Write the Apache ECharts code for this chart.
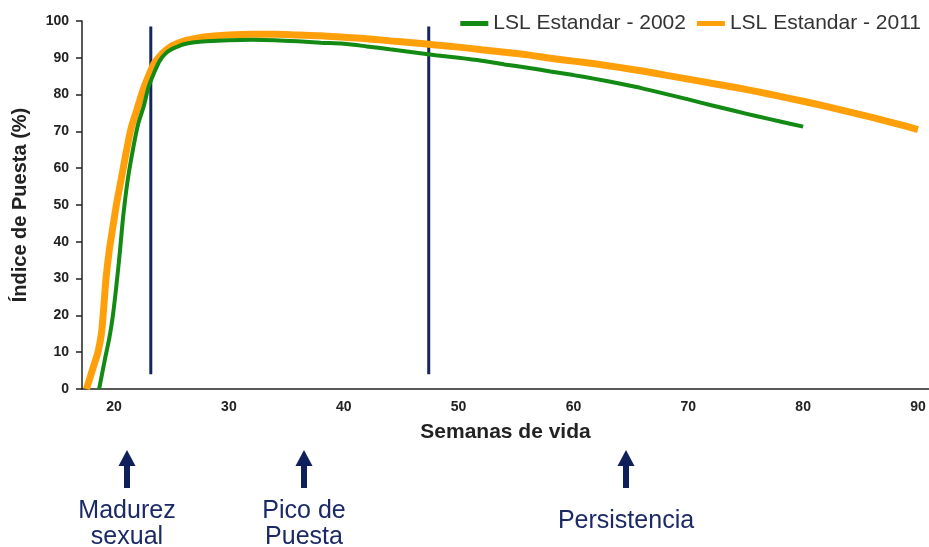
<!DOCTYPE html>
<html>
<head>
<meta charset="utf-8">
<style>
  html, body { margin: 0; padding: 0; background: #fff; }
  #chart { width: 929px; height: 547px; }
</style>
<script src="https://cdn.jsdelivr.net/npm/echarts@6/dist/echarts.min.js"></script>
</head>
<body>
<div id="chart"></div>
<script>
// Laying rate (%) by week of age, LSL standard 2002
const weeks2002 = [18.7, 19.2, 19.6, 19.9, 20.2, 20.5, 20.8, 21.2, 21.7, 22.1, 22.6, 23.0, 23.5, 24.0, 24.5, 25.0, 25.5, 26, 27, 28, 30, 32, 34, 36, 38, 40, 42, 44, 46, 48, 50, 52, 54, 56, 58, 60, 62, 64, 66, 68, 70, 72, 74, 76, 78, 80];
const rate2002 = [0, 8, 14, 20, 28, 37, 47, 57, 66, 72, 77, 82, 86, 89.3, 91.2, 92.3, 93, 93.6, 94.2, 94.5, 94.8, 94.9, 94.8, 94.5, 94.1, 93.8, 93.1, 92.3, 91.5, 90.7, 90.0, 89.2, 88.2, 87.3, 86.3, 85.3, 84.2, 83.0, 81.7, 80.2, 78.7, 77.1, 75.6, 74.1, 72.7, 71.3];

// Laying rate (%) by week of age, LSL standard 2011
const weeks2011 = [17.6, 17.9, 18.3, 18.6, 18.9, 19.1, 19.3, 19.6, 19.9, 20.2, 20.5, 20.8, 21.1, 21.5, 22.0, 22.5, 23.0, 23.5, 24.0, 24.5, 25, 26, 27, 28, 30, 32, 34, 36, 38, 40, 42, 44, 46, 48, 50, 52, 54, 56, 58, 60, 62, 64, 66, 68, 70, 72, 74, 76, 78, 80, 82, 84, 86, 88, 90];
const rate2011 = [0, 3, 7, 10, 15, 22, 30, 38, 44, 50, 55, 60, 65, 71, 76, 81, 85, 88.5, 90.5, 92, 93.2, 94.5, 95.2, 95.7, 96.2, 96.4, 96.4, 96.2, 96.0, 95.6, 95.2, 94.6, 94.1, 93.5, 92.9, 92.2, 91.5, 90.8, 89.9, 89.1, 88.3, 87.4, 86.4, 85.3, 84.2, 83.1, 82.0, 80.8, 79.5, 78.2, 76.8, 75.3, 73.8, 72.2, 70.5];

// Phase boundaries (weeks) drawn as vertical markers
const phaseWeeks = [23.2, 47.4];
const markerRange = [4, 98.5];

const xTicks = [20, 30, 40, 50, 60, 70, 80, 90];
const legendNames = ['LSL Estandar - 2002', 'LSL Estandar - 2011'];

// Phase captions under the chart
const phaseLabels = [
  { x: 127, lines: ['Madurez', 'sexual'] },
  { x: 304, lines: ['Pico de', 'Puesta'] },
  { x: 626, lines: ['Persistencia'] }
];

const pair = (xs, ys) => xs.map((x, i) => [x, ys[i]]);

const FONT = '"Liberation Sans", Arial, sans-serif';
const NAVY = '#1b2a66';

const markerSeries = phaseWeeks.map(w => ({
  type: 'line',
  data: [[w, markerRange[0]], [w, markerRange[1]]],
  symbol: 'none',
  silent: true,
  lineStyle: { color: '#14265e', width: 3 },
  z: 1
}));

const graphics = [];
phaseLabels.forEach(p => {
  // arrow pointing up at the axis
  graphics.push({
    type: 'polygon',
    shape: {
      points: [
        [p.x, 450], [p.x + 8.5, 466], [p.x + 3, 466], [p.x + 3, 488],
        [p.x - 3, 488], [p.x - 3, 466], [p.x - 8.5, 466]
      ]
    },
    style: { fill: '#0f1f5c' }
  });
  const y0 = p.lines.length === 1 ? 521 : 511;
  p.lines.forEach((t, i) => {
    graphics.push({
      type: 'text',
      x: p.x,
      y: y0 + i * 26,
      style: {
        text: t,
        fill: NAVY,
        font: '25px ' + FONT,
        align: 'center',
        verticalAlign: 'middle'
      }
    });
  });
});

const chart = echarts.init(document.getElementById('chart'), null, { renderer: 'canvas' });
chart.setOption({
  animation: false,
  backgroundColor: '#ffffff',
  grid: { left: 82, right: 0, top: 21, bottom: 158, containLabel: false, outerBoundsMode: 'none' },
  legend: {
    data: legendNames,
    right: 3,
    top: 8,
    itemWidth: 28,
    itemHeight: 5,
    itemGap: 11,
    icon: 'rect',
    textStyle: { fontFamily: FONT, fontSize: 21, color: '#333' }
  },
  xAxis: {
    type: 'value',
    min: 17.21,
    max: 90.96,
    name: 'Semanas de vida',
    nameLocation: 'middle',
    nameGap: 33,
    nameTextStyle: { fontFamily: FONT, fontSize: 21, fontWeight: 'bold', color: '#222' },
    axisLine: { show: true, lineStyle: { color: '#222', width: 1.5 } },
    axisTick: { show: false },
    splitLine: { show: false },
    axisLabel: {
      customValues: xTicks,
      margin: 11,
      fontFamily: FONT,
      fontSize: 14,
      fontWeight: 'bold',
      color: '#222'
    }
  },
  yAxis: {
    type: 'value',
    min: 0,
    max: 100,
    interval: 10,
    name: 'Índice de Puesta (%)',
    nameLocation: 'middle',
    nameGap: 52,
    nameRotate: 90,
    nameTextStyle: { fontFamily: FONT, fontSize: 20, fontWeight: 'bold', color: '#222' },
    axisLine: { show: true, lineStyle: { color: '#222', width: 1.5 } },
    axisTick: { show: true, length: 6, lineStyle: { color: '#222', width: 1.5 } },
    splitLine: { show: false },
    axisLabel: {
      margin: 13,
      fontFamily: FONT,
      fontSize: 14,
      fontWeight: 'bold',
      color: '#222'
    }
  },
  series: [
    {
      name: legendNames[0],
      type: 'line',
      data: pair(weeks2002, rate2002),
      symbol: 'none',
      smooth: 0.3,
      color: '#138a13',
      lineStyle: { color: '#138a13', width: 4 },
      z: 3
    },
    {
      name: legendNames[1],
      type: 'line',
      data: pair(weeks2011, rate2011),
      symbol: 'none',
      smooth: 0.3,
      color: '#ffa00a',
      lineStyle: { color: '#ffa00a', width: 7 },
      z: 2
    },
    ...markerSeries
  ],
  graphic: graphics
});
</script>
</body>
</html>
